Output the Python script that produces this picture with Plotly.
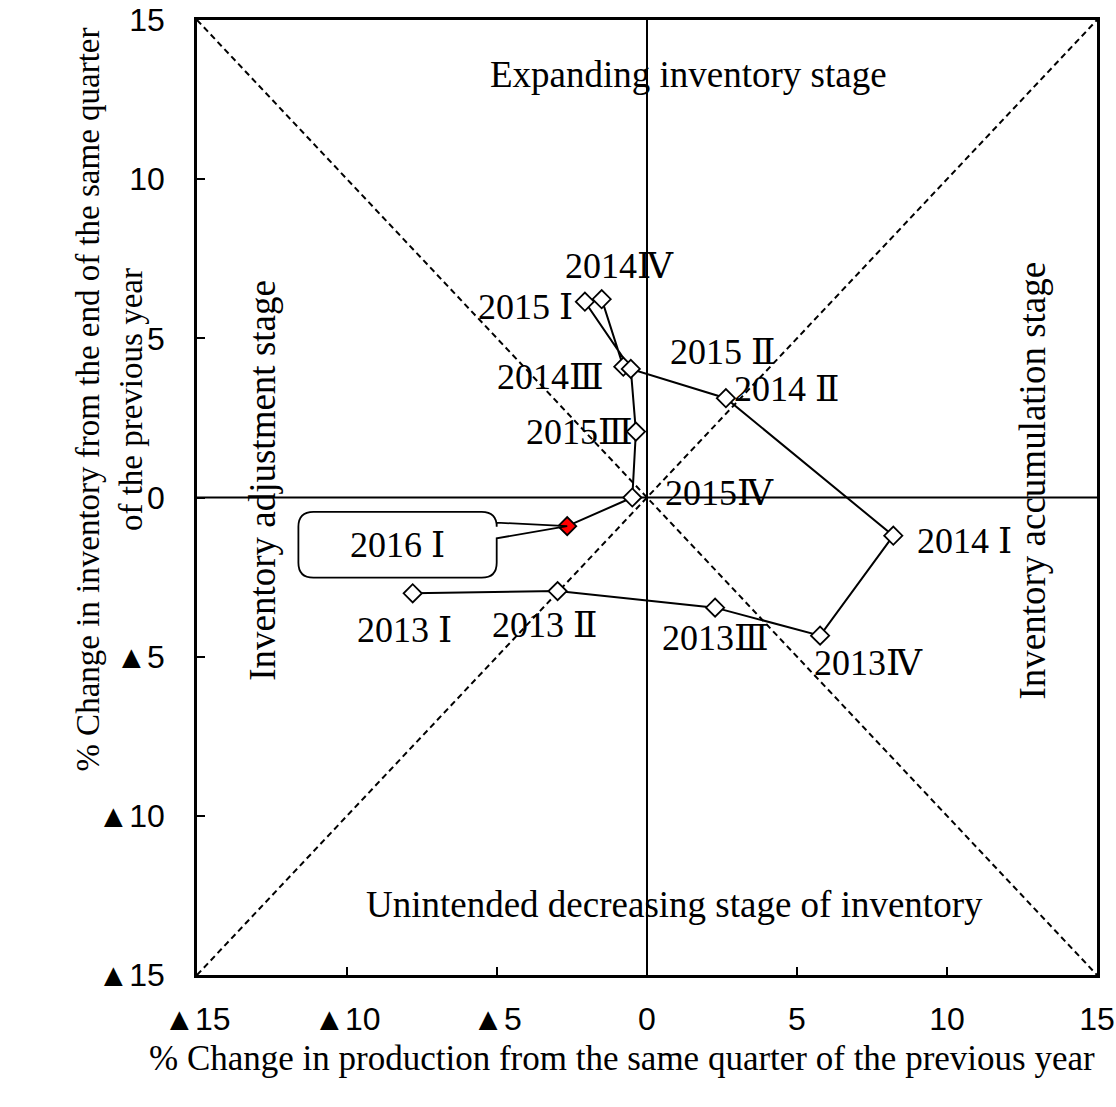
import plotly.graph_objects as go

# quarters, production change (x) and inventory change (y)
quarters = ["2013 Ⅰ", "2013 Ⅱ", "2013Ⅲ", "2013Ⅳ",
            "2014 Ⅰ", "2014 Ⅱ", "2014Ⅲ", "2014Ⅳ",
            "2015 Ⅰ", "2015 Ⅱ", "2015Ⅲ", "2015Ⅳ", "2016 Ⅰ"]
production = [-7.81, -2.98, 2.27, 5.77, 8.21, 2.63, -0.79, -1.51, -2.07, -0.54, -0.37, -0.49, -2.66]
inventory = [-3.01, -2.94, -3.46, -4.34, -1.20, 3.12, 4.11, 6.23, 6.15, 4.04, 2.07, 0.0, -0.90]

# label offsets in pixels (text centre relative to point)
label_dx = [-8, -13, 0, 48, 71, 61, -73, 18, -59, 92, -56, 87]
label_dy = [37, 34, 30, 27, 5, -9, 10, -33, 5, -17, 0, -5]

tickvals = [-15, -10, -5, 0, 5, 10, 15]
ticktext = ["▲15", "▲10", "▲5", "0", "5", "10", "15"]

SERIF = "Liberation Serif, Times New Roman, DejaVu Serif, serif"
SANS = "Liberation Sans, Arial, sans-serif"

fig = go.Figure()

# reference lines
dash_line = dict(color="black", width=2, dash="6px,4px")
fig.add_shape(type="line", x0=-15, y0=15, x1=15, y1=-15, line=dash_line, layer="below")
fig.add_shape(type="line", x0=-15, y0=-15, x1=15, y1=15, line=dash_line, layer="below")
fig.add_shape(type="line", x0=0, y0=-15, x1=0, y1=15, line=dict(color="black", width=2), layer="below")
fig.add_shape(type="line", x0=-15, y0=0, x1=15, y1=0, line=dict(color="black", width=2), layer="below")

fig.add_trace(go.Scatter(
    x=production, y=inventory, mode="lines+markers",
    line=dict(color="black", width=2),
    marker=dict(symbol="diamond", size=14, color=["white"] * 12 + ["red"],
                line=dict(color="black", width=1.8)),
    showlegend=False, hoverinfo="skip",
))

for q, x, y, dx, dy in zip(quarters[:-1], production[:-1], inventory[:-1], label_dx, label_dy):
    fig.add_annotation(x=x, y=y, text=q, showarrow=False, xshift=dx, yshift=-dy,
                       font=dict(family=SERIF, size=36, color="black"))

# callout box for the latest quarter
px, py = production[-1], inventory[-1]
x0, x1 = px - 8.96, px - 2.35
y0, y1 = py - 1.62, py + 0.45
rx, ry = 0.5, 0.47
wy0, wy1 = py + 0.11, py - 0.38
path = (f"M {x0+rx},{y1} L {x1-rx},{y1} Q {x1},{y1} {x1},{y1-ry} "
        f"L {x1},{wy0} L {px},{py} L {x1},{wy1} "
        f"L {x1},{y0+ry} Q {x1},{y0} {x1-rx},{y0} L {x0+rx},{y0} Q {x0},{y0} {x0},{y0+ry} "
        f"L {x0},{y1-ry} Q {x0},{y1} {x0+rx},{y1} Z")
fig.add_shape(type="path", path=path, fillcolor="white", line=dict(color="black", width=1.8))
fig.add_annotation(x=(x0 + x1) / 2, y=(y0 + y1) / 2, text=quarters[-1], showarrow=False,
                   font=dict(family=SERIF, size=36, color="black"))

# stage labels
stage_font = dict(family=SERIF, size=37, color="black")
fig.add_annotation(xref="paper", yref="paper", x=0.5456, y=0.9665, text="Expanding inventory stage",
                   showarrow=False, font=stage_font)
fig.add_annotation(xref="paper", yref="paper", x=0.5311, y=0.0503, text="Unintended decreasing stage of inventory",
                   showarrow=False, font=stage_font)
fig.add_annotation(xref="paper", yref="paper", x=0.0478, y=0.518, text="Inventory adjustment stage",
                   showarrow=False, font=stage_font, textangle=-90)
fig.add_annotation(xref="paper", yref="paper", x=0.953, y=0.518, text="Inventory accumulation stage",
                   showarrow=False, font=stage_font, textangle=-90)

# axis titles
fig.add_annotation(xref="paper", yref="paper", x=0.472, y=-0.110,
                   text="% Change in production from the same quarter of the previous year",
                   showarrow=False, font=dict(family=SERIF, size=35, color="black"))
fig.add_annotation(xref="paper", yref="paper", x=-0.1433, y=0.602,
                   text="% Change in inventory from the end of the same quarter<br>of the previous year",
                   showarrow=False, textangle=-90, font=dict(family=SERIF, size=33, color="black"))

axis_common = dict(range=[-15, 15], tickvals=tickvals, ticktext=ticktext, ticks="inside", ticklen=8,
                   tickwidth=2, tickcolor="black", showline=True, linecolor="black", linewidth=2.5,
                   mirror=True, showgrid=False, zeroline=False, automargin=False,
                   ticklabeloverflow="allow",
                   tickfont=dict(family=SANS, size=32, color="black"))

fig.update_xaxes(**axis_common, ticklabelstandoff=14)
fig.update_yaxes(**axis_common, ticklabelstandoff=23)

fig.update_layout(
    width=1116, height=1107,
    margin=dict(l=197, r=19, t=20, b=132),
    plot_bgcolor="white", paper_bgcolor="white",
)

# drop the default page margin so the figure fills the window exactly
fig.write_html("out.html", config={"displayModeBar": False},
               post_script="document.body.style.margin='0';document.body.style.overflow='hidden';")
